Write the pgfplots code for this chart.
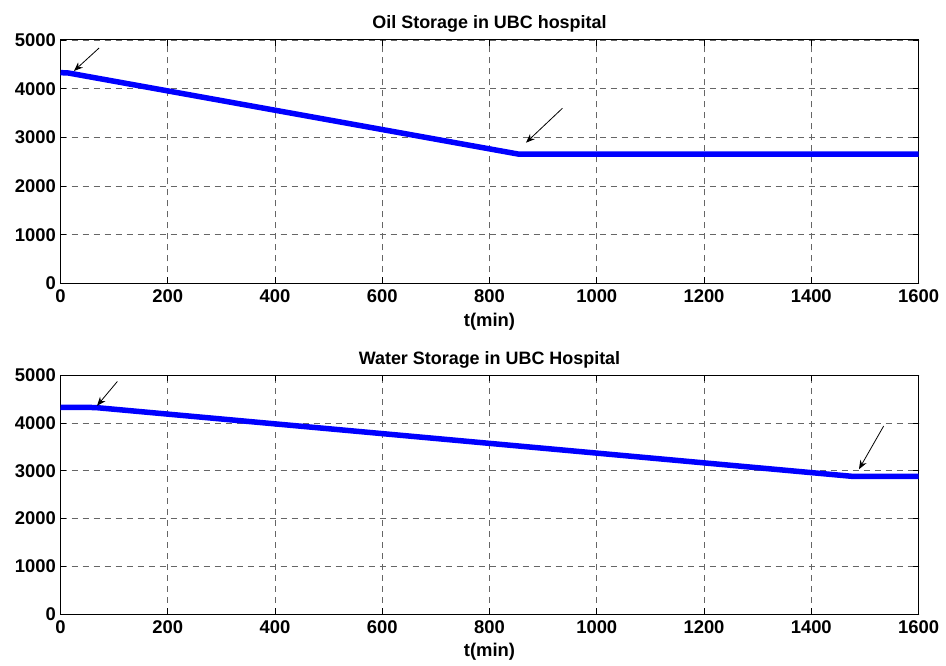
\documentclass[border=0pt]{standalone}
\usepackage{fontspec}
\setmainfont{Liberation Sans}
\usepackage{pgfplots}
\pgfplotsset{compat=1.18}
\usetikzlibrary{arrows.meta}
\pgfplotsset{mstyle/.style={
  scale only axis, width=858bp,
  xmin=0, xmax=1600, ymin=0, ymax=5000,
  xtick={0,200,...,1600}, ytick={0,1000,...,5000},
  grid=major,
  major grid style={black!60, line width=0.8bp, dash pattern=on 6bp off 5bp},
  tick align=inside, major tick length=6bp,
  axis line style={line width=1bp},
  every tick/.style={black, line width=0.9bp},
  /pgf/number format/assume math mode=true,
  /pgf/number format/set thousands separator={},
  ticklabel style={font=\fontsize{18.5}{19}\selectfont\bfseries},
  yticklabel style={xshift=-1bp},
  xticklabel style={yshift=-3bp},
  xlabel={t(min)},
  xlabel style={font=\fontsize{18.5}{19}\selectfont\bfseries, yshift=-3bp},
  title style={font=\fontsize{18}{19}\selectfont\bfseries, yshift=-2bp},
  clip=false,
}}
\begin{document}
\begin{tikzpicture}
\useasboundingbox (0,0) rectangle (946bp,666bp);
\begin{axis}[mstyle, at={(60.5bp,382.5bp)}, anchor=south west, height=243.5bp,
  title={Oil Storage in UBC hospital}]
\addplot[blue, line width=5.5bp, line join=round] coordinates {(0,4330) (15,4322) (855,2655) (1600,2655)};
\addplot[black, line width=0.8bp, -{Stealth[length=9bp,width=7bp]}] coordinates {(72,4836) (25,4363)};
\addplot[black, line width=0.8bp, -{Stealth[length=9bp,width=7bp]}] coordinates {(936,3598) (868,2891)};
\end{axis}
\begin{axis}[mstyle, at={(60.5bp,52bp)}, anchor=south west, height=238.7bp,
  title={Water Storage in UBC Hospital}]
\addplot[blue, line width=5.5bp, line join=round] coordinates {(0,4330) (65,4325) (1475,2885) (1600,2885)};
\addplot[black, line width=0.8bp, -{Stealth[length=9bp,width=7bp]}] coordinates {(106,4870) (68,4360)};
\addplot[black, line width=0.8bp, -{Stealth[length=9bp,width=7bp]}] coordinates {(1535,3937) (1489,3032)};
\end{axis}
\end{tikzpicture}
\end{document}
